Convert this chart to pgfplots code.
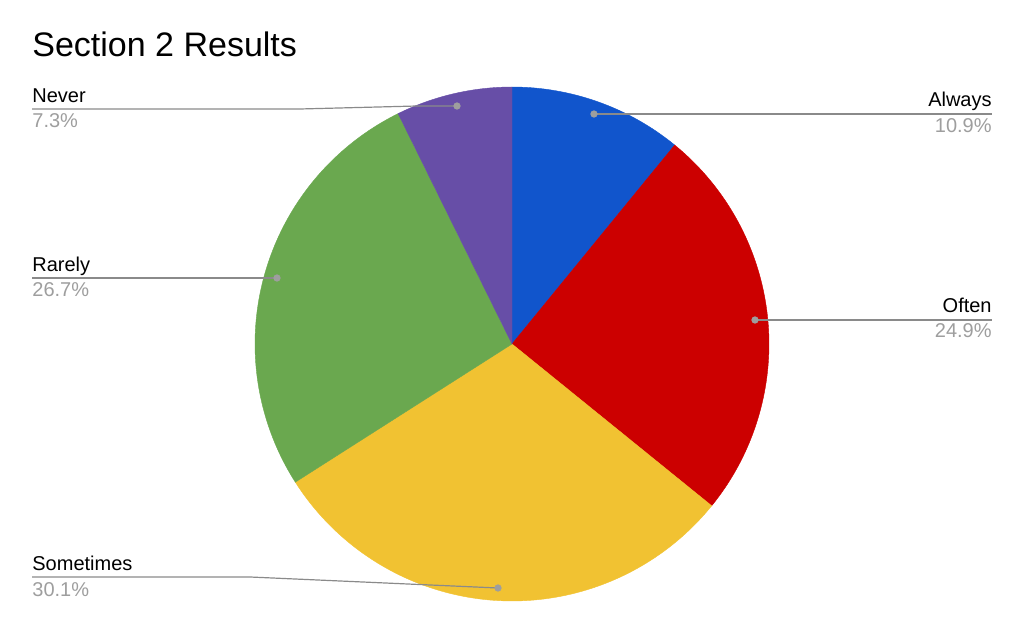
\documentclass[border=0pt]{standalone}
\usepackage{fontspec}
\setmainfont{Liberation Sans}
\usepackage{pgfplots}
\pgfplotsset{compat=1.18}

\definecolor{cAlways}{HTML}{1155CC}
\definecolor{cOften}{HTML}{CC0000}
\definecolor{cSometimes}{HTML}{F1C232}
\definecolor{cRarely}{HTML}{6AA84F}
\definecolor{cNever}{HTML}{674EA7}
\definecolor{pctgray}{HTML}{9E9E9E}
\definecolor{linegray}{HTML}{8A8A8A}

% shares in percent, clockwise from the top
\def\total{99.9}
\def\cum{90}
\newcommand\slice[2]{%
  \pgfmathsetmacro\sa{\cum}%
  \pgfmathsetmacro\sb{\cum-360*#1/\total}%
  \edef\temp{\noexpand\addplot[fill=#2, draw=#2, line width=0.2pt, domain=\sb:\sa, samples=90]
    ({512+257*cos(x)},{-344+257*sin(x)}) -- (axis cs:512,-344) -- cycle;}%
  \temp
  \xdef\cum{\sb}%
}

\begin{document}
\begin{tikzpicture}
\begin{axis}[
  name=ax,
  hide axis,
  clip=false,
  x=0.5pt, y=0.5pt,
  xmin=0, xmax=1024, ymin=-633, ymax=0,
  font=\fontsize{10pt}{12pt}\selectfont,
]
\slice{10.9}{cAlways}
\slice{24.9}{cOften}
\slice{30.1}{cSometimes}
\slice{26.7}{cRarely}
\slice{7.3}{cNever}

% leader lines
\addplot[linegray, line width=0.6pt] coordinates {(594,-114) (992,-114)};
\addplot[linegray, line width=0.6pt] coordinates {(755,-320) (992,-320)};
\addplot[linegray, line width=0.6pt] coordinates {(498,-588) (250,-577) (32,-577)};
\addplot[linegray, line width=0.6pt] coordinates {(277,-278) (32,-278)};
\addplot[linegray, line width=0.6pt] coordinates {(457,-106) (417,-106) (300,-109) (32,-109)};
\addplot[only marks, mark=*, mark size=1.6pt, color=pctgray] coordinates {
  (594,-114) (755,-320) (498,-588) (277,-278) (457,-106)};

\node[anchor=base west, inner sep=0, font=\fontsize{17pt}{20pt}\selectfont] at (axis cs:32,-57) {Section 2 Results};

\node[anchor=base east, inner sep=0] at (axis cs:992,-107) {Always};
\node[anchor=base east, inner sep=0, text=pctgray] at (axis cs:992,-133) {10.9\%};
\node[anchor=base east, inner sep=0] at (axis cs:992,-313) {Often};
\node[anchor=base east, inner sep=0, text=pctgray] at (axis cs:992,-338) {24.9\%};
\node[anchor=base west, inner sep=0] at (axis cs:32,-571) {Sometimes};
\node[anchor=base west, inner sep=0, text=pctgray] at (axis cs:32,-597) {30.1\%};
\node[anchor=base west, inner sep=0] at (axis cs:32,-272) {Rarely};
\node[anchor=base west, inner sep=0, text=pctgray] at (axis cs:32,-297) {26.7\%};
\node[anchor=base west, inner sep=0] at (axis cs:32,-103) {Never};
\node[anchor=base west, inner sep=0, text=pctgray] at (axis cs:32,-128) {7.3\%};
\end{axis}
\pgfresetboundingbox
\path (ax.south west) rectangle (ax.north east);
\end{tikzpicture}
\end{document}
